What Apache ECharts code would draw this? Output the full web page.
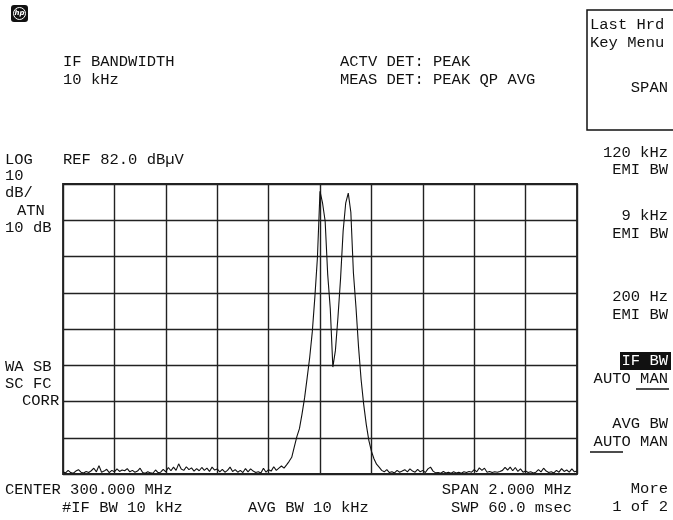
<!DOCTYPE html>
<html>
<head>
<meta charset="utf-8">
<script src="https://cdn.jsdelivr.net/npm/echarts@6/dist/echarts.min.js"></script>
<style>
html,body{margin:0;padding:0;background:#fff;}
#chart{width:673px;height:520px;}
</style>
</head>
<body>
<div id="chart"></div>
<script>
// Sweep definition (instrument settings)
const centerMHz = 300.0;
const spanMHz = 2.0;
const startMHz = 299.0;
const stepMHz = 0.01;
const refLevel = 82.0;      // dBµV
const dbPerDiv = 10;
const divisions = 8;

// Trace levels (dBµV), one per sweep point
const levelsDbuV = [
  2.6,2.3,3.0,2.4,2.2,2.8,3.2,2.5,2.3,2.7,
  2.4,2.9,3.6,2.6,4.3,2.5,2.8,3.3,2.4,3.0,
  2.6,3.4,2.7,3.1,2.9,3.5,2.6,3.0,2.5,2.8,
  3.6,2.4,2.2,2.6,2.3,2.2,3.1,2.4,2.5,3.3,
  2.6,3.8,2.9,3.9,3.0,4.8,3.4,3.0,4.0,3.2,
  3.7,2.8,3.5,2.9,3.8,3.0,3.6,2.7,3.9,3.1,
  3.4,2.6,3.3,2.5,3.0,3.9,2.7,3.2,2.5,3.0,
  2.4,3.5,2.6,3.4,2.8,2.4,2.6,2.3,3.6,2.5,
  3.2,2.8,4.0,3.0,3.6,4.2,
  3.6,4.5,5.5,6.6,9.5,12.3,14.5,18.5,23.0,28.5,
  34.2,41.2,50.8,61.7,80.0,76.7,71.8,57.0,47.6,31.5,
  36.1,45.4,55.9,69.0,76.7,79.5,74.2,57.5,48.0,37.0,
  28.0,21.2,15.7,11.3,8.3,6.2,4.7,3.9,3.0,
  2.6,3.2,2.4,2.6,2.3,3.0,2.5,2.8,3.2,2.6,
  3.4,2.8,2.5,3.3,2.6,3.0,2.4,3.4,3.9,2.8,
  2.3,2.4,2.2,2.7,2.3,2.5,2.2,2.6,2.3,2.5,
  2.2,2.6,2.4,2.7,2.5,3.2,2.6,3.7,3.0,3.6,
  2.5,2.7,2.4,2.6,2.5,2.7,3.0,3.8,3.1,3.9,
  2.9,3.8,2.7,3.4,2.5,2.8,2.4,2.6,2.3,2.5,
  3.2,2.6,3.6,2.8,2.4,2.6,2.3,3.0,2.5,3.5,
  2.7,3.1,2.5,3.4,2.6,2.8
];

// Screen annotation texts
const headerLeft = ['IF BANDWIDTH', '10 kHz'];
const headerRight = ['ACTV DET: PEAK', 'MEAS DET: PEAK QP AVG'];
const leftLabels = ['10', 'dB/', 'ATN', '10 dB'];
const leftLabels2 = ['WA SB', 'SC FC', 'CORR'];
const refText = 'REF 82.0 dBµV';
const bottomRow1 = ['CENTER 300.000 MHz', 'SPAN 2.000 MHz'];
const bottomRow2 = ['#IF BW 10 kHz', 'AVG BW 10 kHz', 'SWP 60.0 msec'];
const softkeys = [
  ['120 kHz', 'EMI BW'],
  ['9 kHz', 'EMI BW'],
  ['200 Hz', 'EMI BW'],
  ['IF BW', 'AUTO MAN'],
  ['AVG BW', 'AUTO MAN'],
  ['More', '1 of 2']
];

const data = levelsDbuV.map((v, i) => [startMHz + i * stepMHz, v]);

const FONT = '15.5px "Liberation Mono", "DejaVu Sans Mono", monospace';
function txt(text, x, y, align, fill) {
  return {
    type: 'text', z: 10,
    style: { text: text, x: x, y: y, font: FONT, fill: fill || '#111',
      textAlign: align || 'left', textVerticalAlign: 'middle', align: align || 'left', verticalAlign: 'middle' }
  };
}
function line(x1, y1, x2, y2, w) {
  return { type: 'line', z: 10, shape: { x1: x1, y1: y1, x2: x2, y2: y2 }, style: { stroke: '#111', lineWidth: w || 1.5 } };
}

const graphics = [];
// HP logo
graphics.push({ type: 'rect', z: 10, shape: { x: 11, y: 5, width: 17, height: 17, r: 3 }, style: { fill: '#111' } });
graphics.push({ type: 'circle', z: 11, shape: { cx: 19.5, cy: 13.5, r: 6 }, style: { fill: 'none', stroke: '#fff', lineWidth: 1 } });
graphics.push({ type: 'text', z: 12, style: { text: 'hp', x: 19.5, y: 13.5, font: 'italic bold 7px "DejaVu Sans"', fill: '#fff', textAlign: 'center', textVerticalAlign: 'middle', align: 'center', verticalAlign: 'middle' } });

// header
graphics.push(txt(headerLeft[0], 63, 62));
graphics.push(txt(headerLeft[1], 63, 80));
graphics.push(txt(headerRight[0], 340, 62));
graphics.push(txt(headerRight[1], 340, 80));

// softkey box
graphics.push({ type: 'rect', z: 9, shape: { x: 587, y: 10, width: 100, height: 120 }, style: { fill: 'none', stroke: '#111', lineWidth: 1.5 } });
graphics.push(txt('Last Hrd', 590, 25));
graphics.push(txt('Key Menu', 590, 43));
graphics.push(txt('SPAN', 668, 88, 'right'));

// left side
graphics.push(txt('LOG', 5, 160));
graphics.push(txt(refText, 63, 160));
graphics.push(txt(leftLabels[0], 5, 176));
graphics.push(txt(leftLabels[1], 5, 193));
graphics.push(txt(leftLabels[2], 17, 211));
graphics.push(txt(leftLabels[3], 5, 228));
graphics.push(txt(leftLabels2[0], 5, 367));
graphics.push(txt(leftLabels2[1], 5, 384));
graphics.push(txt(leftLabels2[2], 22, 401));

// bottom
graphics.push(txt(bottomRow1[0], 5, 490));
graphics.push(txt(bottomRow1[1], 572, 490, 'right'));
graphics.push(txt(bottomRow2[0], 62, 508));
graphics.push(txt(bottomRow2[1], 248, 508));
graphics.push(txt(bottomRow2[2], 572, 508, 'right'));

// softkeys on right
const skY = [[153, 170], [216, 234], [297, 315], [361, 379], [424, 442], [489, 507]];
softkeys.forEach((k, i) => {
  if (i === 3) {
    graphics.push({ type: 'rect', z: 10, shape: { x: 620, y: 352, width: 51, height: 18 }, style: { fill: '#111' } });
    graphics.push(txt(k[0], 668, skY[i][0], 'right', '#fff'));
  } else {
    graphics.push(txt(k[0], 668, skY[i][0], 'right'));
  }
  graphics.push(txt(k[1], 668, skY[i][1], 'right'));
});
// underlines: MAN selected for IF BW, AUTO selected for AVG BW
graphics.push(line(636, 389, 669, 389, 1.5));
graphics.push(line(590, 452, 623, 452, 1.5));

const chart = echarts.init(document.getElementById('chart'), null, { renderer: 'canvas' });
chart.setOption({
  animation: false,
  backgroundColor: '#fff',
  grid: { left: 63, top: 184, width: 514, height: 290, show: true, borderColor: '#222', borderWidth: 1.8, backgroundColor: 'transparent', containLabel: false },
  xAxis: {
    type: 'value', min: startMHz, max: startMHz + spanMHz, interval: spanMHz / 10,
    axisLine: { show: false }, axisTick: { show: false }, axisLabel: { show: false },
    splitLine: { show: true, lineStyle: { color: '#222', width: 1.4 } }
  },
  yAxis: [
    {
      type: 'value', min: refLevel - dbPerDiv * divisions, max: refLevel,
      axisLine: { show: false }, axisTick: { show: false }, axisLabel: { show: false },
      splitLine: { show: false }
    },
    {
      type: 'value', min: 0, max: divisions, interval: 1, position: 'right',
      axisLine: { show: false }, axisTick: { show: false }, axisLabel: { show: false },
      splitLine: { show: true, lineStyle: { color: '#222', width: 1.4 } }
    }
  ],
  series: [{
    type: 'line', yAxisIndex: 0, data: data, showSymbol: false, symbol: 'none',
    lineStyle: { color: '#111', width: 1.1 }, z: 5
  }],
  graphic: graphics
});
</script>
</body>
</html>
